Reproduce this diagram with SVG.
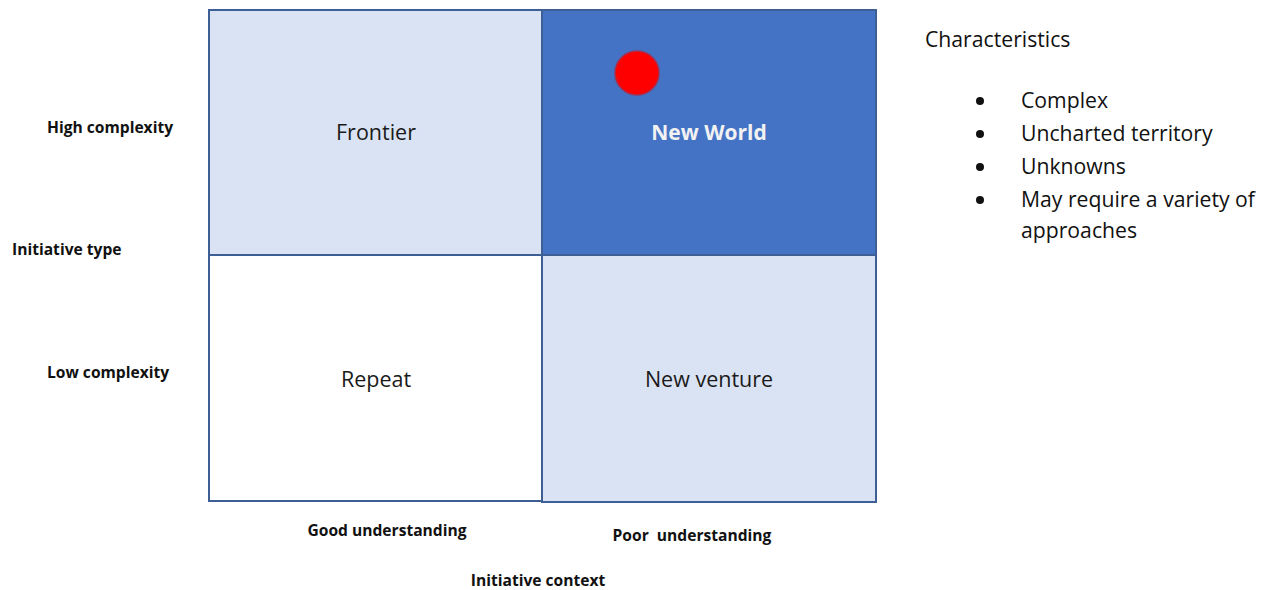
<svg xmlns="http://www.w3.org/2000/svg" width="1272" height="590" viewBox="0 0 1272 590">
<style>
.cell{stroke:#3E5E96;stroke-width:2}
.light{fill:#DAE3F3}
.dark{fill:#4472C4}
.white{fill:#FFFFFF}
.q{font-family:"Open Sans","Noto Sans",sans-serif;font-size:21.5px;fill:#1a1a1a;text-anchor:middle}
.qb{font-family:"Open Sans","Noto Sans",sans-serif;font-size:21px;font-weight:bold;fill:#F2F2F2;text-anchor:middle}
.ax{font-family:"Open Sans","Noto Sans",sans-serif;font-size:15.6px;font-weight:bold;fill:#111}
.axm{font-family:"Open Sans","Noto Sans",sans-serif;font-size:15.6px;font-weight:bold;fill:#111;text-anchor:middle}
.ch{font-family:"Open Sans","Noto Sans",sans-serif;font-size:21.2px;fill:#111}
</style>
<rect width="1272" height="590" fill="#FFFFFF"/>
<g id="frontier"><rect class="cell light" x="209" y="10" width="333" height="245"/><text class="q" x="376" y="140">Frontier</text></g>
<g id="new-world"><rect class="cell dark" x="542" y="10" width="334" height="245"/><text class="qb" x="709" y="140">New World</text></g>
<g id="repeat"><rect class="cell white" x="209" y="255" width="333" height="246"/><text class="q" x="376" y="387">Repeat</text></g>
<g id="new-venture"><rect class="cell light" x="542" y="255" width="334" height="247"/><text class="q" x="709" y="387">New venture</text></g>
<g id="marker-dot"><circle cx="637" cy="73" r="22" fill="#FF0000" stroke="#A33050" stroke-width="1.5"/></g>
<g id="axis-labels">
<text class="ax" x="47" y="133">High complexity</text>
<text class="ax" x="12" y="255">Initiative type</text>
<text class="ax" x="47" y="378">Low complexity</text>
<text class="axm" x="387" y="536">Good understanding</text>
<text class="axm" x="692" y="541" xml:space="preserve">Poor  understanding</text>
<text class="axm" x="538" y="586">Initiative context</text>
</g>
<g id="characteristics">
<text class="ch" x="925" y="47">Characteristics</text>
<g fill="#111"><circle cx="980" cy="101" r="4"/><circle cx="980" cy="134" r="4"/><circle cx="980" cy="167" r="4"/><circle cx="980" cy="200" r="4"/></g>
<text class="ch" x="1021" y="108">Complex</text>
<text class="ch" x="1021" y="141">Uncharted territory</text>
<text class="ch" x="1021" y="174">Unknowns</text>
<text class="ch" x="1021" y="207">May require a variety of</text>
<text class="ch" x="1021" y="238">approaches</text>
</g>
<g id="connectors"/>
</svg>
